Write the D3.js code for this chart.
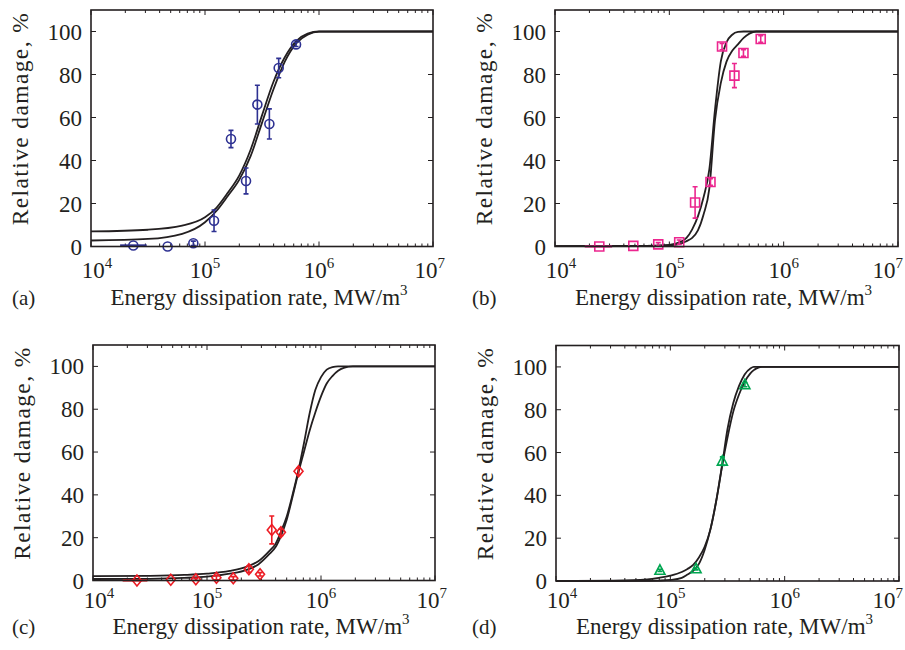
<!DOCTYPE html>
<html>
<head>
<meta charset="utf-8">
<script src="https://cdn.jsdelivr.net/npm/d3@7"></script>
<style>
body { margin: 0; background: #fff; }
svg text { font-family: "Liberation Serif", "Times New Roman", serif; fill: #231f20; }
</style>
</head>
<body>
<svg id="chart" width="905" height="650"></svg>
<script>
var xTickExponents = [4, 5, 6, 7];
var yTicks = [0, 20, 40, 60, 80, 100];
var panelLetters = ["(a)", "(b)", "(c)", "(d)"];
var yLabel = "Relative damage, %";
var xLabel = "Energy dissipation rate, MW/m";

// (a) circles
var aEnergy = [2.35e4, 4.7e4, 7.9e4, 1.2e5, 1.69e5, 2.29e5, 2.88e5, 3.67e5, 4.43e5, 6.29e5];
var aDamage = [0.5, 0, 1.5, 12, 50, 30.5, 66, 57, 83, 94];
var aErr = [0, 0, 1, 5, 4, 6, 9, 7, 4.5, 1];
var aEnergyRange = [1.8e4, 3.08e4];

// (b) squares
var bEnergy = [2.44e4, 4.84e4, 8.0e4, 1.22e5, 1.68e5, 2.29e5, 2.89e5, 3.71e5, 4.45e5, 6.3e5];
var bDamage = [0, 0.3, 1, 2, 20.5, 30, 93, 79.5, 90, 96.5];
var bErr = [0, 0, 0.8, 1, 7.3, 1.5, 1.5, 5.6, 1.5, 1.5];
var bEnergyRange = [1.82e4, 3.16e4];

// (c) diamonds
var cEnergy = [2.43e4, 4.81e4, 7.98e4, 1.21e5, 1.7e5, 2.33e5, 2.92e5, 3.7e5, 4.45e5, 6.35e5];
var cDamage = [0, 0.3, 0.6, 1.3, 1, 5.3, 2.9, 23.6, 22.5, 51];
var cErr = [0, 0, 0.5, 1, 0.8, 1.5, 0.8, 6.5, 1.5, 1.5];
var cEnergyRange = [1.82e4, 3.0e4];

// (d) triangles
var dEnergy = [8.11e4, 1.68e5, 2.85e5, 4.49e5];
var dDamage = [5, 5.7, 56, 91.7];
var dErr = [0.5, 0.5, 2, 1];

var aFitLog = [4, 4.5, 4.8, 5.0, 5.1, 5.2, 5.3, 5.4, 5.5, 5.6, 5.7, 5.8, 5.9, 6.0, 7.0];
var aFit1 = [7, 7.8, 9.7, 13.6, 18, 25, 33, 45, 61, 76.5, 88, 95.5, 99, 100, 100];
var aFit2 = [2.8, 3.5, 5.9, 11.3, 16.5, 23.5, 31, 42, 57.5, 73, 86, 94.5, 98.5, 99.9, 100];

var bFitLog = [4, 4.8, 5.0, 5.1, 5.15, 5.2, 5.25, 5.3, 5.35, 5.4, 5.45, 5.5, 5.55, 5.6, 5.65, 5.7, 5.76, 7.0];
var bFit1 = [0.2, 0.3, 0.8, 2.2, 4, 8, 14, 23, 36, 64, 86, 95, 98.5, 99.8, 100, 100, 100, 100];
var bFit2 = [0.2, 0.3, 0.5, 1.3, 2.5, 4, 7.5, 15, 27, 59, 76, 86, 91, 94, 97, 99, 100, 100];

var cFitLog = [4, 4.5, 4.8, 5.0, 5.2, 5.35, 5.45, 5.55, 5.6, 5.65, 5.7, 5.75, 5.8, 5.85, 5.9, 5.95, 6.0, 6.05, 6.1, 6.15, 6.2, 6.28, 7.0];
var cFit1 = [2.0, 2.2, 2.6, 3.2, 4.5, 6.5, 9, 14, 17, 23, 30, 40, 51, 64, 78, 89, 95, 98.5, 99.7, 100, 100, 100, 100];
var cFit2 = [0.7, 0.8, 1.2, 1.8, 3.2, 5, 7.5, 12.5, 15.5, 21, 28.5, 39, 50, 60, 70, 78.5, 86, 92, 95.5, 98, 99.3, 100, 100];

var dFitLog = [4, 4.5, 4.8, 4.9, 5.0, 5.1, 5.15, 5.2, 5.25, 5.3, 5.35, 5.4, 5.45, 5.5, 5.55, 5.6, 5.65, 5.7, 5.73, 5.75, 5.8, 7.0];
var dFit1 = [0, 0.2, 0.8, 1.5, 2.5, 4.2, 5.6, 7.5, 11, 16, 24, 37, 53, 71, 83, 91, 96.5, 99.3, 100, 100, 100, 100];
var dFit2 = [0, 0, 0.1, 0.2, 0.5, 1.5, 3, 4.8, 8, 14.5, 24, 37, 53, 67, 79, 87, 93, 97, 98.5, 99.2, 100, 100];

var panels = [
	{ energy: aEnergy, damage: aDamage, err: aErr, range: aEnergyRange, fitLog: aFitLog, fits: [aFit1, aFit2], color: "#2e3192", marker: "circle" },
	{ energy: bEnergy, damage: bDamage, err: bErr, range: bEnergyRange, fitLog: bFitLog, fits: [bFit1, bFit2], color: "#ec268f", marker: "square" },
	{ energy: cEnergy, damage: cDamage, err: cErr, range: cEnergyRange, fitLog: cFitLog, fits: [cFit1, cFit2], color: "#ed1c24", marker: "diamond" },
	{ energy: dEnergy, damage: dDamage, err: dErr, range: null, fitLog: dFitLog, fits: [dFit1, dFit2], color: "#00a651", marker: "triangle" }
];

// plot boxes in page pixels
var boxes = [
	{ l: 91, r: 433, t: 10, b: 246.5, tickDy: 31, labelDy: 58.5, letterX: 12 },
	{ l: 555, r: 898, t: 10, b: 246.5, tickDy: 31, labelDy: 58.5, letterX: 472 },
	{ l: 93, r: 435, t: 345, b: 580.5, tickDy: 27, labelDy: 53, letterX: 12 },
	{ l: 556, r: 899, t: 345.5, b: 581, tickDy: 27, labelDy: 53, letterX: 472 }
];

var svg = d3.select("#chart");
var ink = "#231f20";

function markerPath(type) {
	if (type === "square") return "M-4.5,-4.5H4.5V4.5H-4.5Z";
	if (type === "diamond") return "M0,-5.5L4.5,0L0,5.5L-4.5,0Z";
	if (type === "triangle") return "M0,-5.5L5,4L-5,4Z";
	return "M4.5,0A4.5,4.5 0 1,1 -4.5,0A4.5,4.5 0 1,1 4.5,0Z";
}

panels.forEach(function(p, i) {
	var box = boxes[i];
	var x = d3.scaleLog().domain([1e4, 1e7]).range([box.l, box.r]);
	var y = d3.scaleLinear().domain([0, 110]).range([box.b, box.t]);
	var g = svg.append("g");

	// minor + major ticks along top and bottom
	var xt = [];
	for (var k = 4; k < 7; k++) {
		for (var m = 1; m < 10; m++) xt.push({ v: m * Math.pow(10, k), major: m === 1 });
	}
	xt.push({ v: 1e7, major: true });
	g.selectAll(".xt").data(xt).enter().append("path")
		.attr("d", function(d) {
			var px = x(d.v), len = d.major ? 5 : 3;
			return "M" + px + "," + box.b + "v" + (-len) + "M" + px + "," + box.t + "v" + len;
		})
		.attr("stroke", ink).attr("stroke-width", 1);

	g.selectAll(".yt").data(yTicks).enter().append("path")
		.attr("d", function(d) {
			return "M" + box.l + "," + y(d) + "h5M" + box.r + "," + y(d) + "h-5";
		})
		.attr("stroke", ink).attr("stroke-width", 1);

	// fitted curves
	var line = d3.line()
		.x(function(d) { return x(Math.pow(10, d[0])); })
		.y(function(d) { return y(d[1]); })
		.curve(d3.curveMonotoneX);
	p.fits.forEach(function(fit) {
		g.append("path")
			.attr("d", line(d3.zip(p.fitLog, fit)))
			.attr("fill", "none")
			.attr("stroke", ink)
			.attr("stroke-width", 1.8);
	});

	var pts = p.energy.map(function(e, j) {
		return { e: e, v: p.damage[j], err: p.err[j] };
	});

	// error bars
	var eb = g.selectAll(".eb").data(pts).enter().append("g")
		.attr("stroke", p.color).attr("stroke-width", 1.6).attr("fill", "none");
	eb.append("path").attr("d", function(d) {
		if (!d.err) return null;
		var px = x(d.e), y1 = y(d.v + d.err), y2 = y(Math.max(0, d.v - d.err));
		return "M" + px + "," + y1 + "V" + y2 + "M" + (px - 2.5) + "," + y1 + "h5M" + (px - 2.5) + "," + y2 + "h5";
	});
	if (p.range) {
		g.append("path")
			.attr("d", "M" + x(p.range[0]) + "," + y(p.damage[0]) + "H" + x(p.range[1]))
			.attr("stroke", p.color).attr("stroke-width", 2.2);
	}

	g.selectAll(".mk").data(pts).enter().append("path")
		.attr("d", markerPath(p.marker))
		.attr("transform", function(d) { return "translate(" + x(d.e) + "," + y(d.v) + ")"; })
		.attr("fill", "none")
		.attr("stroke", p.color)
		.attr("stroke-width", 1.6);

	// frame
	g.append("rect")
		.attr("x", box.l).attr("y", box.t)
		.attr("width", box.r - box.l).attr("height", box.b - box.t)
		.attr("fill", "none").attr("stroke", ink).attr("stroke-width", 1.6);

	// tick labels
	g.selectAll(".yl").data(yTicks).enter().append("text")
		.attr("x", box.l - 9).attr("y", function(d) { return y(d) + 8; })
		.attr("text-anchor", "end")
		.attr("font-size", 23)
		.text(function(d) { return d; });

	var last = xTickExponents.length - 1;
	var xl = g.selectAll(".xl").data(xTickExponents).enter().append("text")
		.attr("x", function(d, j) {
			var px = x(Math.pow(10, d));
			if (j === 0) return px + 6;
			if (j === last) return Math.min(px + 12, 903);
			return px;
		})
		.attr("y", box.b + box.tickDy)
		.attr("text-anchor", function(d, j) { return j === last ? "end" : "middle"; })
		.attr("font-size", 23);
	xl.append("tspan").text("10");
	xl.append("tspan").attr("font-size", 15).attr("dy", -10).text(function(d) { return d; });

	// axis titles
	var xt2 = g.append("text")
		.attr("x", (box.l + box.r) / 2 - 3)
		.attr("y", box.b + box.labelDy)
		.attr("text-anchor", "middle")
		.attr("font-size", 23);
	xt2.append("tspan").text(xLabel);
	xt2.append("tspan").attr("font-size", 15).attr("dy", -10).text("3");

	g.append("text")
		.attr("transform", "translate(" + (box.l - 63) + "," + ((box.t + box.b) / 2 - 9) + ") rotate(-90)")
		.attr("text-anchor", "middle")
		.attr("font-size", 23.5)
		.attr("textLength", 212)
		.attr("lengthAdjust", "spacing")
		.text(yLabel);

	g.append("text")
		.attr("x", box.letterX)
		.attr("y", box.b + box.labelDy)
		.attr("font-size", 21)
		.text(panelLetters[i]);
});
</script>
</body>
</html>
